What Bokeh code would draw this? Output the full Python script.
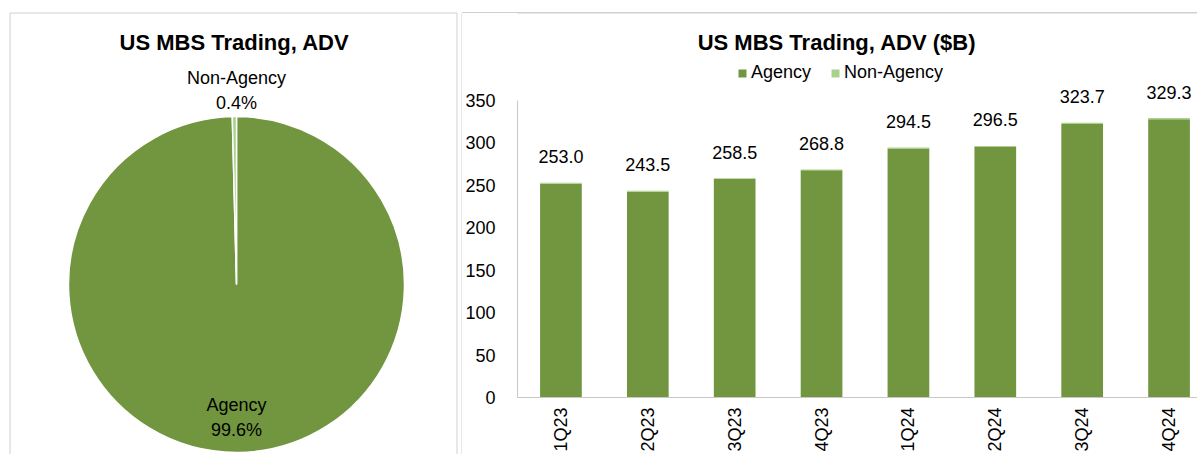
import math
from bokeh.plotting import figure
from bokeh.layouts import row
from bokeh.models import (ColumnDataSource, Range1d, FixedTicker, LabelSet, Label,
                          Legend, LegendItem)
from bokeh.core.properties import value
from bokeh.embed import file_html
from bokeh.resources import INLINE

# ---------------- data ----------------
pie_categories = ["Agency", "Non-Agency"]
pie_shares = [99.6, 0.4]

quarters = ["1Q23", "2Q23", "3Q23", "4Q23", "1Q24", "2Q24", "3Q24", "4Q24"]
agency = [252.0, 242.5, 257.5, 267.7, 293.3, 295.3, 322.4, 328.0]
non_agency = [1.0, 1.0, 1.0, 1.1, 1.2, 1.2, 1.3, 1.3]
y_ticks = [0, 50, 100, 150, 200, 250, 300, 350]

# ---------------- styles ----------------
FONT_NAME = "Liberation Sans"
FONT = value(FONT_NAME)
DARK = "#71963F"
LIGHT = "#A9D18E"
BORDER = "#d0d0d0"
AXIS = "#c8c8c8"

# ---------------- pie panel ----------------
PW, PH = 462, 454
pie = figure(width=PW, height=PH, x_range=Range1d(0, PW), y_range=Range1d(0, PH),
             x_axis_type=None, y_axis_type=None, toolbar_location=None,
             output_backend="svg", min_border=0)
pie.outline_line_color = None
pie.grid.visible = False
pie.frame_align = False


def sy(py):  # page y -> pie data y
    return PH - py


def sx(px):
    return px


# box borders (left panel box, and left edge of right panel box)
pie.line([sx(9.5), sx(9.5), sx(456.5), sx(456.5)], [sy(470), sy(12.5), sy(12.5), sy(470)],
         line_color=BORDER, line_width=1)
pie.line([sx(470), sx(461.5), sx(461.5)], [sy(12.5), sy(12.5), sy(470)],
         line_color=BORDER, line_width=1)

# wedges: clockwise from 12 o'clock
starts, ends = [], []
cum = 0.0
total_share = sum(pie_shares)
for s in pie_shares:
    a0 = math.pi / 2 - 2 * math.pi * (cum + s) / total_share
    a1 = math.pi / 2 - 2 * math.pi * cum / total_share
    starts.append(a0)
    ends.append(a1)
    cum += s
pie_src = ColumnDataSource(dict(cat=pie_categories, share=pie_shares, start=starts, end=ends,
                                color=[DARK, LIGHT]))
pie.wedge(x=sx(236), y=sy(284), radius=168, start_angle="start", end_angle="end",
          fill_color="color", line_color="white", line_width=1.5, source=pie_src)

pie.text(x=[sx(234)], y=[sy(42)], text=["US MBS Trading, ADV"], text_font=FONT,
         text_font_size="22px", text_font_style="bold", text_align="center",
         text_baseline="middle", text_color="black")

lab_pos_y = [sy(417), sy(90)]
pie.text(x=[sx(236), sx(236)], y=lab_pos_y,
         text=[f"{c}\n{s:.1f}%" for c, s in zip(pie_categories, pie_shares)],
         text_font=FONT, text_font_size="18px", text_align="center",
         text_baseline="middle", text_line_height=1.22, text_color="black")

# ---------------- bar panel ----------------
BX0 = PW                 # page x of bar canvas
BW, BH = 1197 - PW, 454
FRAME_L = 516.0
FRAME_B = 397.0
CAT_W = 87.0
Y_TOP = 350.0
PXU = (FRAME_B - 100.0) / Y_TOP          # pixels per unit (350 sits at y=100)
x_end = -0.5 + (1197 - FRAME_L) / CAT_W
y_end = FRAME_B / PXU                    # frame reaches the top of the canvas

bar = figure(width=BW, height=BH, x_range=Range1d(-0.5, x_end), y_range=Range1d(0, y_end),
             toolbar_location=None, output_backend="svg",
             min_border_left=int(FRAME_L - BX0), min_border_right=0,
             min_border_top=0, min_border_bottom=int(BH - FRAME_B),
             styles={"background": f"linear-gradient({BORDER}, {BORDER}) 0px 12px / 100% 1px no-repeat"})
bar.outline_line_color = None
bar.grid.visible = False
bar.frame_align = False
bar.background_fill_color = None
bar.border_fill_color = None


def bx(px):
    return (px - FRAME_L) / CAT_W - 0.5


def by(py):
    return (FRAME_B - py) / PXU


# top border line of the right box (inside the frame part)
bar.line([bx(FRAME_L - 5), bx(1300)], [by(12.5), by(12.5)], line_color=BORDER, line_width=1)

xs = list(range(len(quarters)))
totals = [a + n for a, n in zip(agency, non_agency)]
src = ColumnDataSource(dict(x=xs, agency=agency, non_agency=non_agency, total=totals,
                            label=[f"{t:.1f}" for t in totals]))
rs = bar.vbar_stack(["agency", "non_agency"], x="x", width=0.48, color=[DARK, LIGHT],
                    line_color=None, source=src)

bar.add_layout(LabelSet(x="x", y="total", text="label", source=src, y_offset=26,
                        text_align="center", text_baseline="middle", text_font=FONT,
                        text_font_size="18px", text_color="black"))

# y axis
ya = bar.yaxis[0]
ya.ticker = FixedTicker(ticks=y_ticks)
ya.bounds = (0, Y_TOP)
ya.major_tick_line_color = None
ya.minor_tick_line_color = None
ya.major_tick_out = 0
ya.major_tick_in = 0
ya.axis_line_color = AXIS
ya.major_label_standoff = 22
ya.major_label_text_font = FONT_NAME
ya.major_label_text_font_size = "18px"
ya.major_label_text_color = "black"

# x axis
xa = bar.xaxis[0]
xa.ticker = FixedTicker(ticks=xs)
xa.major_label_overrides = {i: q for i, q in zip(xs, quarters)}
xa.major_label_orientation = math.pi / 2
xa.major_tick_line_color = None
xa.minor_tick_line_color = None
xa.major_tick_out = 0
xa.major_tick_in = 0
xa.axis_line_color = AXIS
xa.major_label_standoff = 10
xa.major_label_text_font = FONT_NAME
xa.major_label_text_font_size = "18px"
xa.major_label_text_color = "black"

bar.add_layout(Label(x=bx(836), y=by(42), text="US MBS Trading, ADV ($B)", text_font=FONT_NAME,
                     text_font_size="22px", text_font_style="bold", text_align="center",
                     text_baseline="middle", text_color="black"))

legend = Legend(items=[LegendItem(label="Agency", renderers=[rs[0]]),
                       LegendItem(label="Non-Agency", renderers=[rs[1]])],
                orientation="horizontal", location=(736 - FRAME_L, FRAME_B - 83),
                glyph_width=10, glyph_height=10, label_standoff=4, spacing=19,
                padding=0, margin=0, border_line_color=None, background_fill_alpha=0,
                label_text_font=FONT_NAME, label_text_font_size="18px",
                label_text_color="black", label_height=21)
bar.add_layout(legend)

layout = row(pie, bar)
open("out.html", "w").write(file_html(layout, INLINE))
